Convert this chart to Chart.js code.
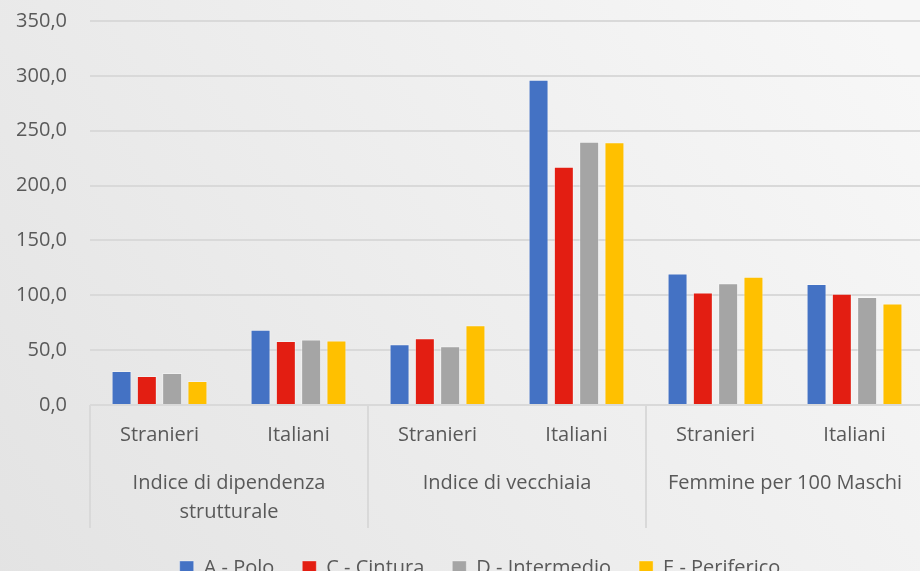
<!DOCTYPE html>
<html>
<head>
<meta charset="utf-8">
<script src="https://cdn.jsdelivr.net/npm/chart.js@4"></script>
<style>
  html, body { margin: 0; padding: 0; overflow: hidden; background: #ececec; }
  #wrap { width: 960px; height: 588px; }
</style>
</head>
<body>
<div id="wrap"><canvas id="mainChart"></canvas></div>
<script>
// ─── DATA ──────────────────────────────────
const subLabels   = ['Stranieri', 'Italiani', 'Stranieri', 'Italiani', 'Stranieri', 'Italiani'];
const groupLabels = [['Indice di dipendenza', 'strutturale'], 'Indice di vecchiaia', 'Femmine per 100 Maschi'];
const seriesNames = ['A - Polo', 'C - Cintura', 'D - Intermedio', 'E - Periferico'];

const polo       = [31.0, 68.7, 55.4, 296.5, 119.8, 110.4];
const cintura    = [26.5, 58.4, 60.8, 217.2, 102.5, 101.3];
const intermedio = [29.2, 59.6, 53.5, 240.0, 111.0,  98.5];
const periferico = [21.9, 58.7, 72.7, 239.4, 116.8,  92.4];

const yMax  = 350;
const yStep = 50;

// ─── STYLE ──────────────────────────────────
const colors   = ['#4472C4', '#E31E12', '#A5A5A5', '#FFC000'];
const textCol  = '#595959';
const gridCol  = '#d9d9d9';
const FONT     = 'Open Sans';

// background gradient like the office theme
const bgPlugin = {
  id: 'bg',
  beforeDraw(chart) {
    const { ctx, width, height } = chart;
    const g = ctx.createLinearGradient(0, height, width * 0.9, 0);
    g.addColorStop(0, '#e3e3e3');
    g.addColorStop(1, '#f7f7f7');
    ctx.save();
    ctx.fillStyle = g;
    ctx.fillRect(0, 0, width, height);
    ctx.restore();
  }
};

// vertical separators between the category groups
const groupLines = {
  id: 'groupLines',
  afterLayout(chart) {
    // the original legend is centred on the full (wider) chart
    chart.legend.left += 18;
    chart.legend.right += 18;
  },
  afterDraw(chart) {
    const x = chart.scales.x, x2 = chart.scales.x2;
    const ctx = chart.ctx;
    const step = (x.right - x.left) / groupLabels.length;
    ctx.save();
    ctx.strokeStyle = gridCol;
    ctx.lineWidth = 2;
    for (let k = 0; k <= groupLabels.length; k++) {
      const px = x.left + k * step;
      ctx.beginPath();
      ctx.moveTo(px, x.top);
      ctx.lineTo(px, x2.bottom - 2);
      ctx.stroke();
    }
    ctx.restore();
  }
};

const series = [polo, cintura, intermedio, periferico];

new Chart(document.getElementById('mainChart'), {
  type: 'bar',
  data: {
    labels: subLabels,
    datasets: series.map((d, i) => ({
      label: seriesNames[i],
      data: d,
      backgroundColor: colors[i],
      borderColor: 'rgba(255,255,255,0.35)',
      borderWidth: 1,
      categoryPercentage: 0.728,
      barPercentage: 0.79,
    }))
  },
  options: {
    responsive: true,
    maintainAspectRatio: false,
    animation: false,
    layout: { padding: { top: 21, right: 36, left: 0, bottom: 0 } },
    plugins: {
      legend: {
        position: 'bottom',
        labels: {
          boxWidth: 14, boxHeight: 14, padding: 28,
          color: textCol, font: { family: FONT, size: 20 }
        }
      },
      tooltip: { enabled: false }
    },
    scales: {
      y: {
        min: 0, max: yMax,
        ticks: {
          stepSize: yStep, padding: 23, color: textCol,
          font: { family: FONT, size: 20 },
          callback: v => v.toFixed(1).replace('.', ',')
        },
        grid: { color: gridCol, lineWidth: 2, drawTicks: false },
        border: { display: false },
        afterFit: s => { s.width = 90; s.paddingTop = 0; s.paddingBottom = 0; }
      },
      x: {
        weight: 0,
        grid: { display: false, drawTicks: false },
        border: { display: false },
        ticks: {
          padding: 18, color: textCol, maxRotation: 0, autoSkip: false,
          font: { family: FONT, size: 20 }
        }
      },
      x2: {
        type: 'category',
        labels: groupLabels,
        position: 'bottom',
        weight: 1,
        offset: true,
        grid: { display: false, drawTicks: false },
        border: { display: false },
        ticks: {
          padding: 3.5, color: textCol, maxRotation: 0, autoSkip: false,
          font: { family: FONT, size: 20, lineHeight: 1.45 }
        }
      }
    }
  },
  plugins: [bgPlugin, groupLines]
});
</script>
</body>
</html>
